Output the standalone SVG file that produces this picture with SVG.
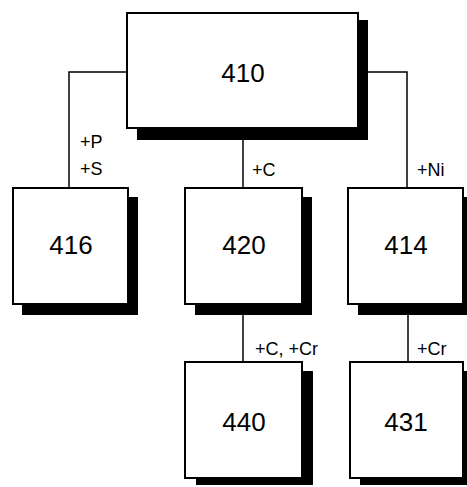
<svg xmlns="http://www.w3.org/2000/svg" width="467" height="487" viewBox="0 0 467 487">
<style>
.box{fill:#fff;stroke:#000;stroke-width:2}
.sh{fill:#000}
.num{font-family:"Liberation Sans",Arial,sans-serif;font-size:26px;text-anchor:middle;fill:#000}
.lbl{font-family:"Liberation Sans",Arial,sans-serif;font-size:18px;fill:#000}
.ln{fill:none;stroke:#000;stroke-width:1.5}
</style>
<rect width="467" height="487" fill="#fff"/>
<g id="connectors">
<polyline class="ln" points="127,72 69,72 69,188"/>
<polyline class="ln" points="368,72 407,72 407,188"/>
<line class="ln" x1="243" y1="140" x2="243" y2="188"/>
<line class="ln" x1="243" y1="315" x2="243" y2="362"/>
<line class="ln" x1="408" y1="315" x2="408" y2="362"/>
<text class="lbl" x="80" y="148">+P</text>
<text class="lbl" x="80" y="175">+S</text>
<text class="lbl" x="252" y="176">+C</text>
<text class="lbl" x="417" y="176">+Ni</text>
<text class="lbl" x="255" y="355">+C, +Cr</text>
<text class="lbl" x="417" y="355">+Cr</text>
</g>
<g id="n410">
<rect class="sh" x="137" y="20" width="231" height="120"/>
<rect class="box" x="127" y="13" width="231" height="115"/>
<text class="num" x="243" y="82">410</text>
</g>
<g id="n416">
<rect class="sh" x="22" y="197" width="116" height="118"/>
<rect class="box" x="13" y="188" width="115" height="116"/>
<text class="num" x="71" y="254">416</text>
</g>
<g id="n420">
<rect class="sh" x="195" y="197" width="117" height="118"/>
<rect class="box" x="185" y="188" width="117" height="116"/>
<text class="num" x="244" y="254">420</text>
</g>
<g id="n414">
<rect class="sh" x="358" y="197" width="109" height="118"/>
<rect class="box" x="348" y="188" width="115" height="116"/>
<text class="num" x="406" y="254">414</text>
</g>
<g id="n440">
<rect class="sh" x="196" y="371" width="117" height="114"/>
<rect class="box" x="185" y="362" width="117" height="116"/>
<text class="num" x="244" y="431">440</text>
</g>
<g id="n431">
<rect class="sh" x="360" y="371" width="107" height="114"/>
<rect class="box" x="350" y="362" width="113" height="116"/>
<text class="num" x="406" y="431">431</text>
</g>
</svg>
